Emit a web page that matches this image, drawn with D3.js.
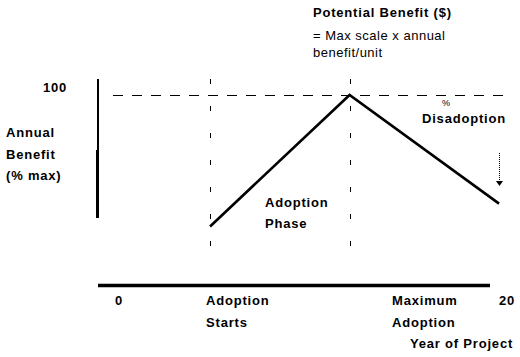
<!DOCTYPE html>
<html><head><meta charset="utf-8">
<script src="https://cdn.jsdelivr.net/npm/d3@7"></script>
<style>
html,body{margin:0;padding:0;background:#fff;}
svg{display:block;font-family:"Liberation Sans",Arial,sans-serif;}
.b{font-weight:bold;font-size:13px;letter-spacing:0.8px;}
.n{font-size:13px;letter-spacing:0.5px;}
</style></head><body>
<script>
// Data
const years = [5, 12, 19.5];           // adoption starts, maximum adoption, end of project
const benefit = [31, 100, 43];         // annual benefit (% of max)
const xDomain = [0, 20];
const yDomain = [0, 100];
const xTickLabels = ["0", "20"];
const yTickLabels = ["100"];
const phaseLabels = [["Adoption", "Starts"], ["Maximum", "Adoption"]];

const W = 520, H = 357;
const svg = d3.select("body").append("svg").attr("width", W).attr("height", H);

const x = d3.scaleLinear().domain(xDomain).range([110.4, 509]);
const y = d3.scaleLinear().domain(yDomain).range([285.5, 95]);

// Y axis line (two segments, slightly different weight)
svg.append("line").attr("x1", 98).attr("x2", 98).attr("y1", 79).attr("y2", 151)
  .attr("stroke", "#000").attr("stroke-width", 2);
svg.append("line").attr("x1", 97.5).attr("x2", 97.5).attr("y1", 150).attr("y2", 218)
  .attr("stroke", "#000").attr("stroke-width", 3);

// X axis line
svg.append("line").attr("x1", 98).attr("x2", 490).attr("y1", 285.5).attr("y2", 285.5)
  .attr("stroke", "#000").attr("stroke-width", 3.5);

// Horizontal dashed line at 100%
svg.append("line").attr("x1", 113).attr("x2", 510).attr("y1", y(100) + 0.5).attr("y2", y(100) + 0.5)
  .attr("stroke", "#000").attr("stroke-width", 1).attr("stroke-dasharray", "10,9");

// Vertical dashed lines at adoption start and maximum adoption
svg.selectAll("line.vd").data(years.slice(0, 2)).enter().append("line")
  .attr("class", "vd")
  .attr("x1", d => Math.round(x(d)) + 0.5).attr("x2", d => Math.round(x(d)) + 0.5)
  .attr("y1", 79).attr("y2", 252)
  .attr("stroke", "#000").attr("stroke-width", 1).attr("stroke-dasharray", "5,22");

// Benefit line
const line = d3.line().x(d => x(d[0])).y(d => y(d[1]));
svg.append("path").datum(years.map((d, i) => [d, benefit[i]]))
  .attr("d", line).attr("fill", "none").attr("stroke", "#000").attr("stroke-width", 2.6)
  .attr("stroke-linejoin", "miter");

// Dotted disadoption arrow
const ax = 499.5;
svg.append("line").attr("x1", ax).attr("x2", ax).attr("y1", 153).attr("y2", 182)
  .attr("stroke", "#000").attr("stroke-width", 1).attr("stroke-dasharray", "1,1");
svg.append("path").attr("d", `M${ax - 3.5},181 L${ax + 3.5},181 L${ax},186 Z`).attr("fill", "#000");

// Texts
function txt(t, xx, yy, cls) {
  return svg.append("text").attr("x", xx).attr("y", yy).attr("class", cls).text(t);
}
txt("Potential Benefit ($)", 313, 17, "b");
txt("= Max scale x annual", 313, 40, "n");
txt("benefit/unit", 313, 57, "n");

txt(yTickLabels[0], 43, y(100) - 3, "b");
txt("Annual", 6, 137, "b");
txt("Benefit", 6, 159, "b");
txt("(% max)", 6, 180, "b").attr("xml:space", "preserve");

svg.append("text").attr("x", 442).attr("y", 106).attr("font-size", "9px").text("%");
txt("Disadoption", 422, 123, "b");
txt("Adoption", 265, 207, "b");
txt("Phase", 265, 228, "b");

// x tick labels
txt(xTickLabels[0], x(0) + 4.5, 305, "b");
txt(xTickLabels[1], x(20) - 10, 305, "b");
// phase labels on x axis
[years[0], years[1]].forEach((yr, i) => {
  const off = i === 0 ? -4 : 42.5;
  txt(phaseLabels[i][0], x(yr) + off, 305, "b");
  txt(phaseLabels[i][1], x(yr) + off, 327, "b");
});
txt("Year of Project", 410, 348, "b");
</script>
</body></html>
